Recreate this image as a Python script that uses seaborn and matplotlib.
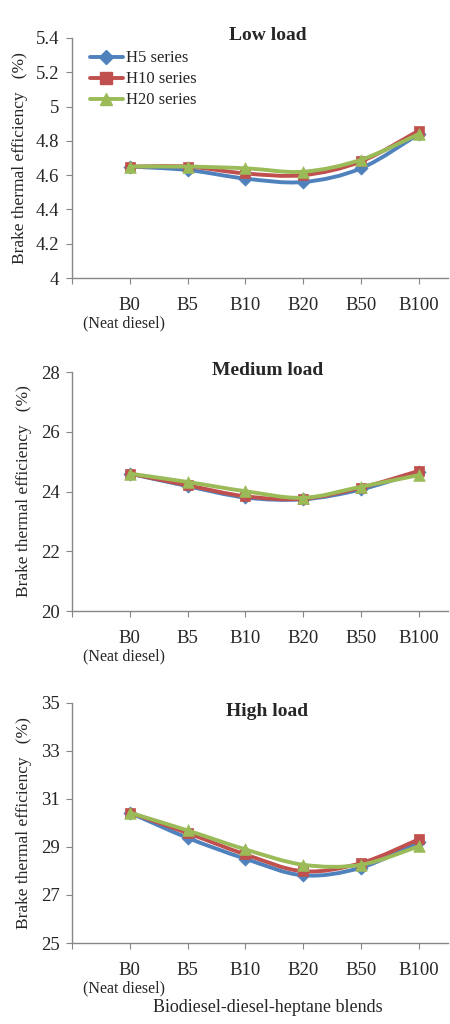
import numpy as np
import pandas as pd
import matplotlib
matplotlib.use("Agg")
import matplotlib.pyplot as plt
import seaborn as sns
from matplotlib.path import Path
from matplotlib.patches import PathPatch
from matplotlib.lines import Line2D

# ---------------- data ----------------
blends = ["B0", "B5", "B10", "B20", "B50", "B100"]
series_names = ["H5 series", "H10 series", "H20 series"]

low_h5 = [4.65, 4.63, 4.58, 4.56, 4.64, 4.84]
low_h10 = [4.65, 4.65, 4.61, 4.60, 4.68, 4.86]
low_h20 = [4.65, 4.65, 4.64, 4.62, 4.69, 4.84]

med_h5 = [24.60, 24.18, 23.80, 23.74, 24.07, 24.66]
med_h10 = [24.60, 24.21, 23.84, 23.76, 24.13, 24.69]
med_h20 = [24.60, 24.32, 24.01, 23.79, 24.16, 24.55]

high_h5 = [30.43, 29.38, 28.51, 27.82, 28.14, 29.21]
high_h10 = [30.43, 29.58, 28.69, 27.99, 28.33, 29.32]
high_h20 = [30.43, 29.69, 28.90, 28.26, 28.26, 29.03]

panel_titles = ["Low load", "Medium load", "High load"]
ylims = [(4, 5.4), (20, 28), (25, 35)]
yticks = [[4, 4.2, 4.4, 4.6, 4.8, 5, 5.2, 5.4],
          [20, 22, 24, 26, 28],
          [25, 27, 29, 31, 33, 35]]
ytick_labels = [["4", "4.2", "4.4", "4.6", "4.8", "5", "5.2", "5.4"],
                ["20", "22", "24", "26", "28"],
                ["25", "27", "29", "31", "33", "35"]]

panels = [[low_h5, low_h10, low_h20],
          [med_h5, med_h10, med_h20],
          [high_h5, high_h10, high_h20]]

colors = ["#4F81BD", "#C0504D", "#9BBB59"]
markers = ["D", "s", "^"]
msizes = [45, 60, 70]

# ---------------- style ----------------
sns.set_style("white")
plt.rcParams["font.family"] = ["Liberation Serif", "DejaVu Serif"]

fig = plt.figure(figsize=(4.5, 10.24), dpi=100)
axes_pos = [(0.16, 0.7285, 0.835, 0.2344),
            (0.16, 0.4033, 0.835, 0.2334),
            (0.16, 0.0791, 0.835, 0.2344)]

spine_col = "#868686"


def smooth_path(xs, ys):
    pts = np.column_stack([xs, ys]).astype(float)
    n = len(pts)
    verts = [pts[0]]
    codes = [Path.MOVETO]
    for i in range(n - 1):
        p0 = pts[i - 1] if i > 0 else pts[i]
        p1 = pts[i]
        p2 = pts[i + 1]
        p3 = pts[i + 2] if i + 2 < n else pts[i + 1]
        c1 = p1 + (p2 - p0) / 6.0
        c2 = p2 - (p3 - p1) / 6.0
        verts += [c1, c2, p2]
        codes += [Path.CURVE4] * 3
    return Path(verts, codes)


x_idx = np.arange(len(blends))

for k, (pos, vals) in enumerate(zip(axes_pos, panels)):
    ax = fig.add_axes(pos)
    rows = []
    for s, v in zip(series_names, vals):
        for b, xi, val in zip(blends, x_idx, v):
            rows.append({"x": xi, "blend": b, "series": s, "value": val})
    df = pd.DataFrame(rows)

    for j, s in enumerate(series_names):
        sub = df[df.series == s]
        pth = smooth_path(sub["x"].values, sub["value"].values)
        ax.add_patch(PathPatch(pth, facecolor="none", edgecolor=colors[j],
                               lw=2.8, zorder=2 + j, capstyle="round",
                               joinstyle="round"))
        sns.scatterplot(data=sub, x="x", y="value", ax=ax, marker=markers[j],
                        s=msizes[j], color=colors[j], edgecolor=colors[j],
                        linewidth=0.5, zorder=3 + j, legend=False)

    ax.set_xlim(-1, 5.5)
    ax.set_ylim(*ylims[k])
    ax.set_yticks(yticks[k])
    ax.set_yticklabels(ytick_labels[k])
    ax.set_xticks([-1] + list(x_idx))
    ax.set_xticklabels([""] + blends)
    ax.set_xlabel("")
    ax.set_ylabel("Brake thermal efficiency   (%)", fontsize=12.5, labelpad=6)
    ax.tick_params(axis="y", direction="out", length=4, color=spine_col,
                   labelsize=13.5, pad=5, left=True)
    ax.tick_params(axis="x", direction="out", length=4, color=spine_col,
                   labelsize=13.5, pad=10, bottom=True)
    for sp in ["top", "right"]:
        ax.spines[sp].set_visible(False)
    for sp in ["left", "bottom"]:
        ax.spines[sp].set_color(spine_col)
        ax.spines[sp].set_linewidth(1.0)
    ax.set_facecolor("white")

    ax.text(-0.1, -0.19, "(Neat diesel)", transform=ax.get_xaxis_transform(),
            ha="center", va="center", fontsize=11.5)

    title_y = [1.01, 1.005, 0.965][k]
    ax.text(0.52, title_y, panel_titles[k], transform=ax.transAxes,
            ha="center", va="center", fontsize=14, fontweight="bold")

    if k == 0:
        handles = [Line2D([0], [0], color=colors[j], lw=2.8, marker=markers[j],
                          markersize=[7, 8, 9][j], markerfacecolor=colors[j],
                          markeredgecolor=colors[j])
                   for j in range(3)]
        ax.legend(handles, series_names, loc="upper left",
                  bbox_to_anchor=(0.02, 0.99), frameon=False, fontsize=12,
                  handlelength=2.0, handletextpad=0.2, labelspacing=0.3,
                  borderaxespad=0.2)
    if k == 2:
        ax.text(0.52, -0.27, "Biodiesel-diesel-heptane blends",
                transform=ax.transAxes, ha="center", va="center", fontsize=13)

fig.savefig("out.png", dpi=100, facecolor="white")
